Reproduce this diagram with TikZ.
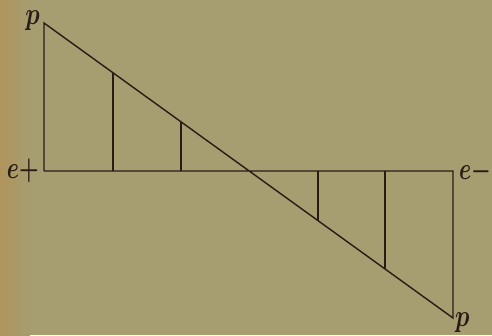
\documentclass[tikz,border=0pt]{standalone}
\usepackage{graphicx}
\begin{document}
\begin{tikzpicture}[x=1pt,y=-1pt,
  ln/.style={draw=linec,line width=1.4pt},
  lab/.style={inner sep=0pt,text=linec,font=\boldmath}]
\definecolor{bgc}{RGB}{166,157,112}
\definecolor{bgl}{RGB}{176,148,92}
\definecolor{linec}{RGB}{40,28,20}
\useasboundingbox (0,0) rectangle (492,335);
\fill[bgc] (0,0) rectangle (492,335);
\shade[left color=bgl,right color=bgc] (0,0) rectangle (30,335);
\coordinate (A) at (44,23);
\coordinate (B) at (44,171);
\coordinate (C) at (453,171);
\coordinate (D) at (453,318);
\coordinate (v1b) at (113,171); \coordinate (v1t) at (113,72.8);
\coordinate (v2b) at (181,171); \coordinate (v2t) at (181,121.8);
\coordinate (v3b) at (318,171); \coordinate (v3t) at (318,220.6);
\coordinate (v4b) at (385,171); \coordinate (v4t) at (385,268.9);
\draw[ln,line join=miter] (B) -- (A) -- (D) -- (C) -- (B);
\draw[ln] (v1b) -- (v1t);
\draw[ln] (v2b) -- (v2t);
\draw[ln] (v3b) -- (v3t);
\draw[ln] (v4b) -- (v4t);
\node[lab,anchor=base east] (pt) at (40,24) {\scalebox{2.4}[3.1]{$p$}};
\node[lab,anchor=base east] (ep) at (39,178) {\scalebox{2.2}[3.1]{$e{+}$}};
\node[lab,anchor=base west] (em) at (459,179) {\scalebox{2.2}[3.1]{$e{-}$}};
\node[lab,anchor=base west] (pb) at (455,326) {\scalebox{2.4}[3.1]{$p$}};
\end{tikzpicture}
\end{document}
